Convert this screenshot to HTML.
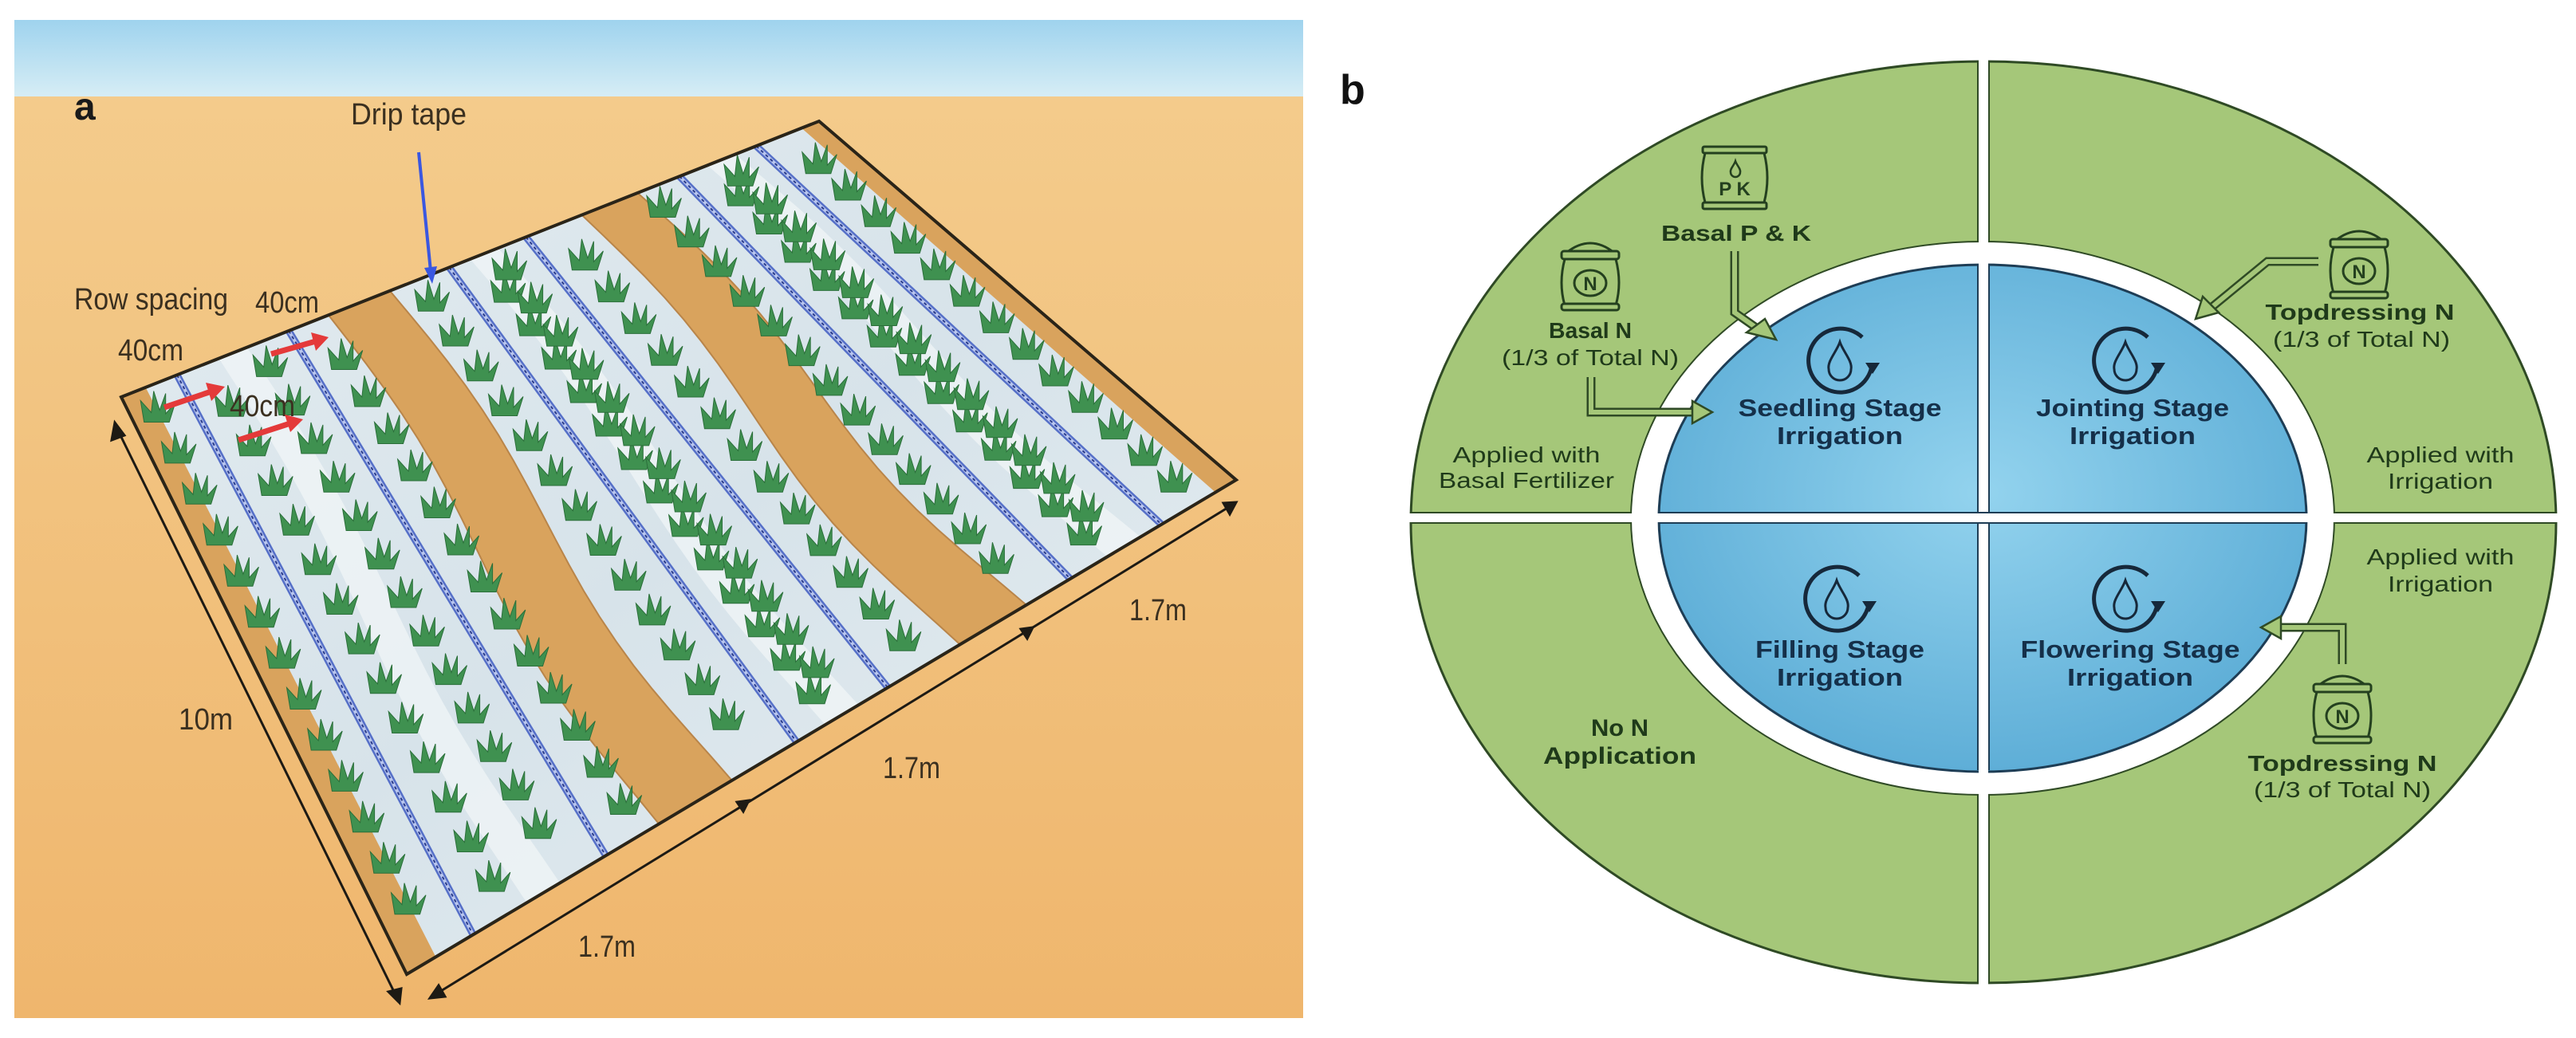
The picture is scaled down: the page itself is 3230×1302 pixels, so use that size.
<!DOCTYPE html>
<html><head><meta charset="utf-8"><style>
html,body{margin:0;padding:0;background:#fff;}
svg{display:block;}
</style></head><body>
<svg id="s" width="3230" height="1302" viewBox="0 0 3230 1302" xmlns="http://www.w3.org/2000/svg">
<defs>
<linearGradient id="sky" x1="0" y1="0" x2="0" y2="1"><stop offset="0" stop-color="#9fd3ee"/><stop offset="1" stop-color="#d6edf5"/></linearGradient>
<linearGradient id="sand" x1="0" y1="0" x2="0" y2="1"><stop offset="0" stop-color="#f4cd8e"/><stop offset="1" stop-color="#efb66d"/></linearGradient>
<radialGradient id="blue" cx="0.5" cy="0.45" r="0.55"><stop offset="0" stop-color="#93d3ee"/><stop offset="1" stop-color="#5eaed7"/></radialGradient>
<linearGradient id="bed" x1="0" y1="0" x2="1" y2="1"><stop offset="0" stop-color="#e3ecf0"/><stop offset="0.5" stop-color="#d7e3ea"/><stop offset="1" stop-color="#e6eef1"/></linearGradient>
<g id="bagN">
<path d="M-30,-28 Q0,-52 30,-28 Z" fill="#a5c779" stroke="#24401f" stroke-width="3"/>
<rect x="-36" y="-30" width="72" height="10" rx="3" fill="#a5c779" stroke="#24401f" stroke-width="3"/>
<path d="M-32,-20 Q-40,10 -32,38 L32,38 Q40,10 32,-20 Z" fill="#a5c779" stroke="#24401f" stroke-width="3"/>
<rect x="-36" y="36" width="72" height="8" rx="3" fill="#a5c779" stroke="#24401f" stroke-width="3"/>
<ellipse cx="0" cy="10" rx="20" ry="16" fill="none" stroke="#24401f" stroke-width="3"/>
<text x="0" y="19" text-anchor="middle" font-family="Liberation Sans, sans-serif" font-weight="bold" font-size="24" fill="#24401f">N</text>
</g>
<g id="drop">
<path d="M 28,-30 A 40,40 0 1 0 40,6" fill="none" stroke="#16283a" stroke-width="5"/>
<polygon points="32,2 50,2 41,16" fill="#16283a"/>
<path d="M0,-24 C-4,-12 -16,0 -14,10 A14,14 0 0 0 14,10 C16,0 4,-12 0,-24 Z" fill="none" stroke="#16283a" stroke-width="3"/>
</g>
</defs>

<rect x="18" y="25" width="1616" height="1252" fill="url(#sand)"/>
<rect x="18" y="25" width="1616" height="96" fill="url(#sky)"/>
<g id="field"></g>
<text x="93" y="150" font-family="Liberation Sans, sans-serif" font-weight="bold" font-size="48" fill="#1a1a1a">a</text>
<g font-family="Liberation Sans, sans-serif" fill="#3b3020" font-size="38">
<text x="440" y="156" textLength="145" lengthAdjust="spacingAndGlyphs">Drip tape</text>
<text x="93" y="388" textLength="193" lengthAdjust="spacingAndGlyphs">Row spacing</text>
<text x="148" y="452" textLength="82" lengthAdjust="spacingAndGlyphs">40cm</text>
<text x="320" y="392" textLength="80" lengthAdjust="spacingAndGlyphs">40cm</text>
<text x="288" y="522" textLength="82" lengthAdjust="spacingAndGlyphs">40cm</text>
<text x="224" y="915" textLength="68" lengthAdjust="spacingAndGlyphs">10m</text>
<text x="725" y="1200" textLength="72" lengthAdjust="spacingAndGlyphs">1.7m</text>
<text x="1107" y="976" textLength="72" lengthAdjust="spacingAndGlyphs">1.7m</text>
<text x="1416" y="778" textLength="72" lengthAdjust="spacingAndGlyphs">1.7m</text>
</g>
<line x1="525" y1="191" x2="540" y2="340" stroke="#3a57e0" stroke-width="4"/>
<polygon points="532,336 548,334 542,356" fill="#3a57e0"/>
<g stroke="#e43a3a" stroke-width="7" fill="#e43a3a">
<line x1="206" y1="511" x2="265" y2="491"/><polygon points="258,480 282,485 265,503" stroke="none"/>
<line x1="340" y1="444" x2="396" y2="428"/><polygon points="390,417 412,423 396,440" stroke="none"/>
<line x1="299" y1="552" x2="364" y2="531"/><polygon points="357,520 380,526 364,542" stroke="none"/>
</g>
<g stroke="#1d1a14" stroke-width="3" fill="#1d1a14">
<line x1="148" y1="540" x2="497" y2="1250"/>
<polygon points="144,530 140,552 156,546" /><polygon points="501,1258 487,1244 503,1240"/>
<line x1="548" y1="1246" x2="1544" y2="634"/>
<polygon points="539,1252 550,1236 558,1250"/><polygon points="1550,630 1534,631 1542,645"/>
<polygon points="939,1004 924,1006 932,1018"/><polygon points="1295,787 1280,789 1288,801"/>
</g>

<text x="1680" y="130" font-family="Liberation Sans, sans-serif" font-weight="bold" font-size="52" fill="#111">b</text>
<ellipse cx="2487" cy="655" rx="718" ry="578" fill="#a5c779" stroke="#2f4a25" stroke-width="3"/>
<ellipse cx="2486" cy="650" rx="441" ry="347" fill="#fff" stroke="#2f4a25" stroke-width="2"/>
<ellipse cx="2486" cy="650" rx="406" ry="318" fill="url(#blue)" stroke="#1e3d55" stroke-width="3"/>
<rect x="2481" y="60" width="12" height="1200" fill="#fff"/>
<rect x="1750" y="644" width="1480" height="11" fill="#fff"/>
<g stroke="#2f4a25" stroke-width="2">
<line x1="2480" y1="78" x2="2480" y2="303"/><line x1="2494" y1="78" x2="2494" y2="303"/>
<line x1="2480" y1="997" x2="2480" y2="1232"/><line x1="2494" y1="997" x2="2494" y2="1232"/>
<line x1="1770" y1="643" x2="2045" y2="643"/><line x1="1770" y1="656" x2="2045" y2="656"/>
<line x1="2928" y1="643" x2="3204" y2="643"/><line x1="2928" y1="656" x2="3204" y2="656"/>
</g>
<g stroke="#1e3d55" stroke-width="2">
<line x1="2480" y1="333" x2="2480" y2="643"/><line x1="2494" y1="333" x2="2494" y2="643"/>
<line x1="2480" y1="656" x2="2480" y2="966"/><line x1="2494" y1="656" x2="2494" y2="966"/>
<line x1="2081" y1="643" x2="2891" y2="643"/><line x1="2081" y1="656" x2="2891" y2="656"/>
</g>

<use href="#drop" x="2307" y="453"/>
<use href="#drop" x="2665" y="453"/>
<use href="#drop" x="2303" y="752"/>
<use href="#drop" x="2665" y="752"/>

<g font-family="Liberation Sans, sans-serif" font-weight="bold" font-size="31" fill="#15304a" text-anchor="middle">
<text x="2307" y="522" textLength="255" lengthAdjust="spacingAndGlyphs">Seedling Stage</text>
<text x="2307" y="557" textLength="158" lengthAdjust="spacingAndGlyphs">Irrigation</text>
<text x="2674" y="522" textLength="242" lengthAdjust="spacingAndGlyphs">Jointing Stage</text>
<text x="2674" y="557" textLength="158" lengthAdjust="spacingAndGlyphs">Irrigation</text>
<text x="2307" y="825" textLength="212" lengthAdjust="spacingAndGlyphs">Filling Stage</text>
<text x="2307" y="860" textLength="158" lengthAdjust="spacingAndGlyphs">Irrigation</text>
<text x="2671" y="825" textLength="275" lengthAdjust="spacingAndGlyphs">Flowering Stage</text>
<text x="2671" y="860" textLength="158" lengthAdjust="spacingAndGlyphs">Irrigation</text>
</g>

<g stroke="#24401f" stroke-width="3" fill="#a5c779">
<rect x="2135" y="184" width="80" height="8" rx="2"/>
<path d="M2138,192 Q2130,223 2138,254 L2212,254 Q2220,223 2212,192 Z"/>
<rect x="2135" y="254" width="80" height="8" rx="2"/>
<path d="M2176,202 C2174,208 2169,212 2170,216 A6,6 0 0 0 2182,216 C2183,212 2178,208 2176,202 Z" stroke-width="2.5"/>
</g>
<text x="2175" y="245" text-anchor="middle" font-family="Liberation Sans, sans-serif" font-weight="bold" font-size="24" fill="#24401f">P K</text>
<use href="#bagN" x="1994" y="345"/>
<use href="#bagN" x="2958" y="330"/>
<use href="#bagN" x="2937" y="888"/>

<g fill="none" stroke-linejoin="miter">
<g stroke="#2f4a25" stroke-width="11">
<polyline points="2175,315 2175,392 2212,418"/>
<polyline points="1995,473 1995,517 2128,517"/>
<polyline points="2907,328 2843,328 2770,388"/>
<polyline points="2937,833 2937,787 2852,787"/>
</g>
<g stroke="#a5c779" stroke-width="6">
<polyline points="2175,313 2175,392 2212,418"/>
<polyline points="1995,471 1995,517 2128,517"/>
<polyline points="2909,328 2843,328 2770,388"/>
<polyline points="2937,835 2937,787 2852,787"/>
</g>
</g>
<g fill="#a5c779" stroke="#2f4a25" stroke-width="2.5">
<polygon points="2227,426 2190,417 2213,400"/>
<polygon points="2147,517 2122,503 2122,531"/>
<polygon points="2753,400 2762,372 2782,392"/>
<polygon points="2835,787 2860,773 2860,801"/>
</g>

<g font-family="Liberation Sans, sans-serif" fill="#1f3a1a" text-anchor="middle">
<text x="2177" y="302" font-weight="bold" font-size="28" textLength="188" lengthAdjust="spacingAndGlyphs">Basal P &amp; K</text>
<text x="1994" y="424" font-weight="bold" font-size="28" textLength="104" lengthAdjust="spacingAndGlyphs">Basal N</text>
<text x="1994" y="458" font-size="28" textLength="222" lengthAdjust="spacingAndGlyphs">(1/3 of Total N)</text>
<text x="2959" y="401" font-weight="bold" font-size="28" textLength="237" lengthAdjust="spacingAndGlyphs">Topdressing N</text>
<text x="2961" y="435" font-size="28" textLength="222" lengthAdjust="spacingAndGlyphs">(1/3 of Total N)</text>
<text x="2937" y="967" font-weight="bold" font-size="28" textLength="237" lengthAdjust="spacingAndGlyphs">Topdressing N</text>
<text x="2937" y="1000" font-size="28" textLength="222" lengthAdjust="spacingAndGlyphs">(1/3 of Total N)</text>
<text x="1914" y="580" font-size="28" textLength="185" lengthAdjust="spacingAndGlyphs">Applied with</text>
<text x="1914" y="612" font-size="28" textLength="220" lengthAdjust="spacingAndGlyphs">Basal Fertilizer</text>
<text x="3060" y="580" font-size="28" textLength="185" lengthAdjust="spacingAndGlyphs">Applied with</text>
<text x="3060" y="613" font-size="28" textLength="132" lengthAdjust="spacingAndGlyphs">Irrigation</text>
<text x="3060" y="708" font-size="28" textLength="185" lengthAdjust="spacingAndGlyphs">Applied with</text>
<text x="3060" y="742" font-size="28" textLength="132" lengthAdjust="spacingAndGlyphs">Irrigation</text>
<text x="2031" y="923" font-weight="bold" font-size="30" textLength="72" lengthAdjust="spacingAndGlyphs">No N</text>
<text x="2031" y="958" font-weight="bold" font-size="30" textLength="192" lengthAdjust="spacingAndGlyphs">Application</text>
</g>
</svg>
<script>
(function(){
var NS="http://www.w3.org/2000/svg";
var g=document.getElementById("field");
var TL=[152,498],TR=[1027,152],BL=[510,1222],BR=[1550,602];
function L(a,b,t){return [a[0]+(b[0]-a[0])*t,a[1]+(b[1]-a[1])*t];}
function P(t,s){return L(L(TL,TR,t),L(BL,BR,t),s);}
function el(n,at){var e=document.createElementNS(NS,n);for(var k in at)e.setAttribute(k,at[k]);g.appendChild(e);return e;}
function pts(a){return a.map(function(p){return p[0].toFixed(1)+","+p[1].toFixed(1);}).join(" ");}
function band(t0,t1,wave){var a=[],b=[];for(var i=0;i<=20;i++){var s=i/20,w=wave*Math.sin(s*Math.PI*2.2);a.push(P(t0+w,s));b.unshift(P(t1+w,s));}return a.concat(b);}
el("polygon",{points:pts([TL,TR,BR,BL]),fill:"url(#bed)"});
el("polygon",{points:pts(band(0,0.035,0)),fill:"#d9a35d"});
el("polygon",{points:pts(band(0.975,1,0)),fill:"#d9a35d"});
[0.16,0.52,0.86].forEach(function(t){el("polygon",{points:pts(band(t-0.02,t+0.02,0.008)),fill:"#f2f6f8",opacity:"0.7"});});
el("polygon",{points:pts(band(0.297,0.385,0.012)),fill:"#d9a35d",stroke:"#b9854a","stroke-width":"2"});
el("polygon",{points:pts(band(0.66,0.74,0.012)),fill:"#d9a35d",stroke:"#b9854a","stroke-width":"2"});
var lines=[0.08,0.24,0.47,0.58,0.80,0.91];
lines.forEach(function(t){var a=P(t,0),b=P(t,1);
el("line",{x1:a[0],y1:a[1],x2:b[0],y2:b[1],stroke:"#5670c8","stroke-width":"9"});
el("line",{x1:a[0],y1:a[1],x2:b[0],y2:b[1],stroke:"#b9c6ee","stroke-width":"4"});
el("line",{x1:a[0],y1:a[1],x2:b[0],y2:b[1],stroke:"#2a3c8c","stroke-width":"2","stroke-dasharray":"4 4"});});
lines.forEach(function(t,li){[-0.045,0.045].forEach(function(d,j){for(var k=0;k<14;k++){var s=0.04+k*0.072+(j?0.036:0);if(s>0.97)continue;var p=P(t+d,s);var x=p[0],y=p[1],c=1.5;
function q(a,b){return (x+a*c).toFixed(1)+","+(y+b*c).toFixed(1);}
el("path",{d:"M"+q(-11,10)+" L"+q(-14,-8)+" L"+q(-5,2)+" L"+q(-3,-16)+" L"+q(2,0)+" L"+q(7,-14)+" L"+q(7,3)+" L"+q(15,-6)+" L"+q(10,10)+" Z",fill:"#3f9150",stroke:"#2b6f3a","stroke-width":"1"});}});});
el("polygon",{points:pts([TL,TR,BR,BL]),fill:"none",stroke:"#2a2418","stroke-width":"4"});
})();
</script>
</body></html>
